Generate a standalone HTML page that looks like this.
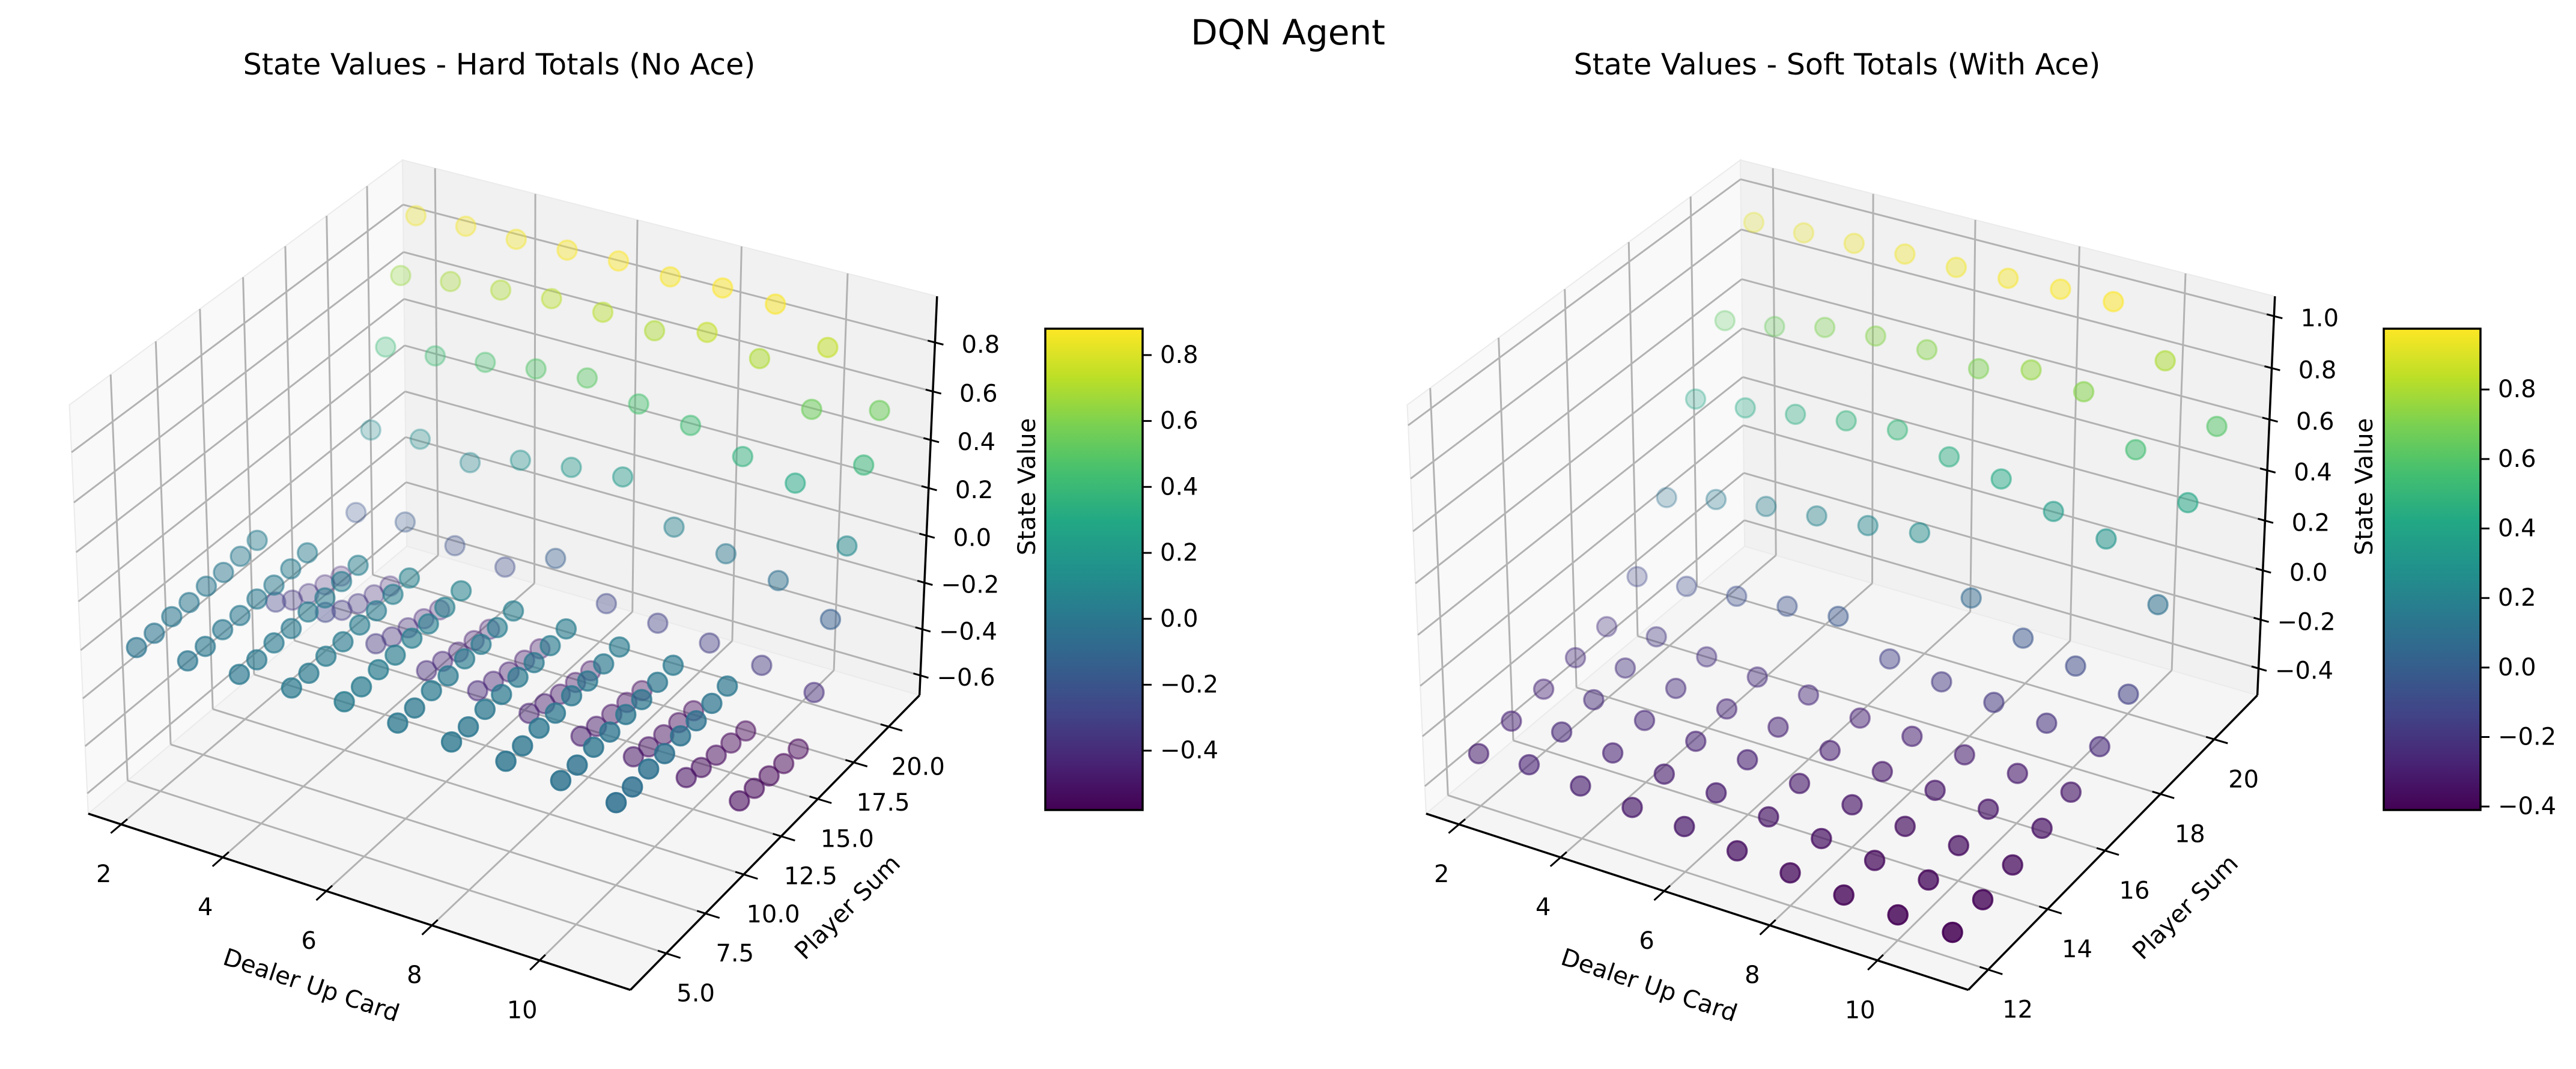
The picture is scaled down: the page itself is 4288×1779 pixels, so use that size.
<!DOCTYPE html>
<html><head><meta charset="utf-8"><title>DQN Agent</title>
<style>html,body{margin:0;padding:0;background:#fff;}svg{display:block;font-family:"DejaVu Sans","Liberation Sans",sans-serif;}</style>
</head><body>
<svg id="fig" width="4288" height="1779" viewBox="0 0 4288 1779" xmlns="http://www.w3.org/2000/svg">
<defs>
<linearGradient id="viridis" x1="0" y1="1" x2="0" y2="0">
<stop offset="0" stop-color="#440154"/><stop offset="0.1" stop-color="#482475"/><stop offset="0.2" stop-color="#414487"/><stop offset="0.3" stop-color="#355f8d"/><stop offset="0.4" stop-color="#2a788e"/><stop offset="0.5" stop-color="#21918c"/><stop offset="0.6" stop-color="#22a884"/><stop offset="0.7" stop-color="#44bf70"/><stop offset="0.8" stop-color="#7ad151"/><stop offset="0.9" stop-color="#bddf26"/><stop offset="1" stop-color="#fde725"/>
</linearGradient>
</defs>
<rect width="4288" height="1779" fill="#ffffff"/>
<text x="2144" y="74" font-size="58" text-anchor="middle" fill="#000">DQN Agent</text>
<text x="831" y="124" font-size="49" text-anchor="middle" fill="#000">State Values - Hard Totals (No Ace)</text>
<text x="3058" y="124" font-size="49" text-anchor="middle" fill="#000">State Values - Soft Totals (With Ace)</text>
</svg>
<script>
// ---- data ----
const dealers = [2,3,4,5,6,7,8,9,10,11];
const hardSums = [4,5,6,7,8,9,10,11,12,13,14,15,16,17,18,19,20,21];
const hardValues = [
[-0.02,-0.01,0.00,0.01,0.02,0.00,-0.01,-0.02,-0.03,-0.05],
[-0.02,-0.01,0.00,0.01,0.02,0.00,-0.01,-0.02,-0.03,-0.05],
[-0.01,0.00,0.01,0.02,0.03,0.01,0.00,-0.01,-0.02,-0.04],
[-0.01,0.00,0.01,0.02,0.03,0.01,0.00,-0.01,-0.02,-0.04],
[0.00,0.01,0.02,0.03,0.04,0.02,0.01,0.00,-0.01,-0.03],
[0.00,0.01,0.02,0.03,0.04,0.02,0.01,0.00,-0.01,-0.03],
[0.01,0.02,0.03,0.04,0.05,0.03,0.02,0.01,0.00,-0.02],
[0.02,0.03,0.04,0.05,0.06,0.04,0.03,0.02,0.01,-0.01],
[-0.30,-0.28,-0.35,-0.40,-0.42,-0.45,-0.48,-0.50,-0.52,-0.55],
[-0.35,-0.33,-0.38,-0.42,-0.44,-0.47,-0.50,-0.52,-0.54,-0.56],
[-0.38,-0.36,-0.40,-0.44,-0.46,-0.49,-0.51,-0.53,-0.55,-0.57],
[-0.40,-0.38,-0.42,-0.45,-0.47,-0.50,-0.52,-0.54,-0.56,-0.58],
[-0.42,-0.40,-0.44,-0.46,-0.48,-0.51,-0.53,-0.55,-0.57,-0.58],
[-0.20,-0.18,-0.22,-0.25,-0.15,-0.28,-0.30,-0.32,-0.35,-0.40],
[0.10,0.12,0.08,0.15,0.18,0.20,0.05,0.00,-0.05,-0.15],
[0.40,0.42,0.45,0.48,0.50,0.45,0.42,0.35,0.30,0.10],
[0.65,0.68,0.70,0.72,0.72,0.70,0.75,0.70,0.55,0.38],
[0.85,0.86,0.86,0.87,0.88,0.87,0.88,0.87,0.75,0.55]
];
const softSums = [12,13,14,15,16,17,18,19,20,21];
const softValues = [
[-0.30,-0.28,-0.30,-0.32,-0.33,-0.36,-0.38,-0.40,-0.41,-0.41],
[-0.28,-0.26,-0.28,-0.30,-0.31,-0.34,-0.36,-0.38,-0.39,-0.40],
[-0.26,-0.24,-0.26,-0.28,-0.29,-0.32,-0.34,-0.36,-0.37,-0.38],
[-0.24,-0.22,-0.24,-0.26,-0.27,-0.30,-0.32,-0.33,-0.34,-0.35],
[-0.22,-0.20,-0.22,-0.24,-0.25,-0.28,-0.29,-0.30,-0.31,-0.32],
[-0.12,-0.10,-0.08,-0.06,-0.04,-0.15,-0.18,-0.20,-0.22,-0.25],
[0.10,0.15,0.18,0.20,0.22,0.25,0.05,-0.05,-0.10,-0.15],
[0.40,0.42,0.45,0.48,0.50,0.45,0.42,0.35,0.30,0.10],
[0.62,0.65,0.70,0.72,0.72,0.70,0.75,0.72,0.55,0.40],
[0.92,0.93,0.94,0.95,0.95,0.96,0.97,0.975,0.80,0.60]
];
const xTicks = [2,4,6,8,10];
const hardYTicks = [5,7.5,10,12.5,15,17.5,20];
const hardZTicks = [-0.6,-0.4,-0.2,0.0,0.2,0.4,0.6,0.8];
const softYTicks = [12,14,16,18,20];
const softZTicks = [-0.4,-0.2,0.0,0.2,0.4,0.6,0.8,1.0];
const cbarTicks = [-0.4,-0.2,0.0,0.2,0.4,0.6,0.8];

// ---- helpers ----
const NS = 'http://www.w3.org/2000/svg';
const svg = document.getElementById('fig');
function mk(tag, attrs, parent){ const e=document.createElementNS(NS,tag); for(const k in attrs) e.setAttribute(k,attrs[k]); (parent||svg).appendChild(e); return e; }
const VIR = ['#440154','#482475','#414487','#355f8d','#2a788e','#21918c','#22a884','#44bf70','#7ad151','#bddf26','#fde725'];
function hex(h){return [parseInt(h.substr(1,2),16),parseInt(h.substr(3,2),16),parseInt(h.substr(5,2),16)];}
function viridis(t){ t=Math.max(0,Math.min(1,t)); const s=t*10, i=Math.min(9,Math.floor(s)), f=s-i; const a=hex(VIR[i]), b=hex(VIR[i+1]); return 'rgb('+a.map((v,k)=>Math.round(v+(b[k]-v)*f)).join(',')+')'; }
function lim(mn,mx){ const r=mx-mn, lo=mn-0.05*r, hi=mx+0.05*r, R=hi-lo; return [lo-R/48, hi+R/48]; }
function fmt(v,d){ return v.toFixed(d).replace('-','\u2212'); }
const A=1.1429, C=0.8571, S=905, DIST=10;
function projN(P,tx,ty,tz){ const bx=(tx-.5)*A, by=(ty-.5)*A, bz=(tz-.5)*C;
  const sx=0.8660*bx+0.5*by, sy=-0.25*bx+0.4330*by+0.8660*bz, d=0.4330*bx-0.75*by+0.5*bz;
  const f=DIST/(DIST-d); return [P.cx+sx*f*S, P.cy-sy*f*S, d]; }
function nx(P,x){return (x-P.xl[0])/(P.xl[1]-P.xl[0]);}
function ny(P,y){return (y-P.yl[0])/(P.yl[1]-P.yl[0]);}
function nz(P,z){return (z-P.zl[0])/(P.zl[1]-P.zl[0]);}
function line(g,a,b,stroke,w){ return mk('line',{x1:a[0].toFixed(1),y1:a[1].toFixed(1),x2:b[0].toFixed(1),y2:b[1].toFixed(1),stroke:stroke,'stroke-width':w},g); }
function poly(g,pts,fill){ return mk('polygon',{points:pts.map(p=>p[0].toFixed(1)+','+p[1].toFixed(1)).join(' '),fill:fill,stroke:'#ebebeb','stroke-width':2},g); }

function drawPanel(P){
  const g = mk('g',{});
  
  
  let all=[]; P.values.forEach(r=>r.forEach(v=>all.push(v)));
  const vmin=Math.min(...all), vmax=Math.max(...all);
  P.xl=lim(Math.min(...dealers),Math.max(...dealers));
  P.yl=lim(Math.min(...P.sums),Math.max(...P.sums));
  P.zl=lim(vmin,vmax);
  const q=(a,b,c)=>projN(P,a,b,c);
  const p1=poly(g,[q(0,0,0),q(0,1,0),q(0,1,1),q(0,0,1)],'#f9f9f9');
  
  
  const p2=poly(g,[q(0,1,0),q(1,1,0),q(1,1,1),q(0,1,1)],'#f1f1f1');
  
  
  const p3=poly(g,[q(0,0,0),q(1,0,0),q(1,1,0),q(0,1,0)],'#f5f5f5');
  
  
  const GC='#b2b2b2', GW=3;
  xTicks.forEach(t=>{ const a=nx(P,t); let l=line(g,q(a,0,0),q(a,1,0),GC,GW);
    
    
    l=line(g,q(a,1,0),q(a,1,1),GC,GW);
    
     });
  P.yTicks.forEach(t=>{ const a=ny(P,t); let l=line(g,q(0,a,0),q(1,a,0),GC,GW);
    
    
    l=line(g,q(0,a,0),q(0,a,1),GC,GW);
    
     });
  P.zTicks.forEach(t=>{ const a=nz(P,t); let l=line(g,q(0,0,a),q(0,1,a),GC,GW);
    
    
    l=line(g,q(0,1,a),q(1,1,a),GC,GW);
    
     });
  let ax=line(g,q(0,0,0),q(1,0,0),'#000',3.5);
  
  
  ax=line(g,q(1,0,0),q(1,1,0),'#000',3.5);
  
  
  ax=line(g,q(1,1,0),q(1,1,1),'#000',3.5);
  
  
  const FS=40;
  function lab(x,y,txt,name){ const t=mk('text',{x:x.toFixed(1),y:y.toFixed(1),'font-size':FS,'text-anchor':'middle','dominant-baseline':'central',fill:'#000'},g); t.textContent=txt;
    
     return t; }
  xTicks.forEach(t=>{ const a=nx(P,t); const tk=line(g,q(a,-0.03,0),q(a,0.018,0),'#000',3);
    
    
    const p=q(a,0,0); lab(p[0]-29,p[1]+83,String(t),'x-tick-label'); });
  P.yTicks.forEach(t=>{ const a=ny(P,t); const tk=line(g,q(0.985,a,0),q(1.025,a,0),'#000',3);
    
    
    const p=q(1,a,0); lab(p[0]+49,p[1]+67,fmt(t,P.yDec),'y-tick-label'); });
  P.zTicks.forEach(t=>{ const a=nz(P,t); const tk=line(g,q(0.987,1,a),q(1.015,1,a),'#000',3);
    
    
    const p=q(1,1,a); lab(p[0]+76,p[1]+4,fmt(t,1),'z-tick-label'); });
  let t=mk('text',{x:P.cx-333,y:1640,'font-size':FS,'text-anchor':'middle','dominant-baseline':'central',transform:'rotate(18.4 '+(P.cx-333)+' 1640)'},g); t.textContent='Dealer Up Card';
  
  
  t=mk('text',{x:P.cx+560,y:1510,'font-size':FS,'text-anchor':'middle','dominant-baseline':'central',transform:'rotate(-44.7 '+(P.cx+560)+' 1510)'},g); t.textContent='Player Sum';
  
  
  t=mk('text',{x:P.zlx,y:810,'font-size':FS,'text-anchor':'middle','dominant-baseline':'central',transform:'rotate(-90 '+P.zlx+' 810)'},g); t.textContent='State Value';
  
  
  const pts=[];
  P.sums.forEach((s,i)=>dealers.forEach((d,j)=>{ const v=P.values[i][j]; const p=proj(P,d,s,v); pts.push({p:p,v:v}); }));
  const ds=pts.map(o=>o.p[2]); const dmin=Math.min(...ds), dmax=Math.max(...ds);
  pts.sort((a,b)=>a.p[2]-b.p[2]);
  pts.forEach(o=>{ const dn=(o.p[2]-dmin)/(dmax-dmin); const col=viridis((o.v-vmin)/(vmax-vmin));
    const c=mk('circle',{cx:o.p[0].toFixed(1),cy:o.p[1].toFixed(1),r:16,fill:col,stroke:col,'stroke-width':3.5,'fill-opacity':(0.85*(0.3+0.7*dn)).toFixed(3),'stroke-opacity':(0.9*(0.35+0.65*dn)).toFixed(3)},g);
    
     });
  const cb=P.cb;
  const r=mk('rect',{x:cb.x,y:cb.y,width:cb.w,height:cb.h,fill:'url(#viridis)',stroke:'#000','stroke-width':3.5},g);
  
  
  cbarTicks.forEach(v=>{ const y=cb.y+cb.h*(1-(v-vmin)/(vmax-vmin)); const tk=line(g,[cb.x+cb.w,y],[cb.x+cb.w+15,y],'#000',3);
    
    
    const tl=mk('text',{x:cb.x+cb.w+29,y:y.toFixed(1),'font-size':FS,'dominant-baseline':'central',fill:'#000'},g); tl.textContent=fmt(v,1);
    
     });
}
function proj(P,x,y,z){ return projN(P,nx(P,x),ny(P,y),nz(P,z)); }

drawPanel({name:'hard-totals-plot',cx:851,cy:925,sums:hardSums,values:hardValues,yTicks:hardYTicks,zTicks:hardZTicks,yDec:1,zlx:1710,cb:{x:1740,y:547,w:162,h:801}});
drawPanel({name:'soft-totals-plot',cx:3078,cy:925,sums:softSums,values:softValues,yTicks:softYTicks,zTicks:softZTicks,yDec:0,zlx:3936,cb:{x:3968,y:547,w:161,h:801}});
</script>
</body></html>
